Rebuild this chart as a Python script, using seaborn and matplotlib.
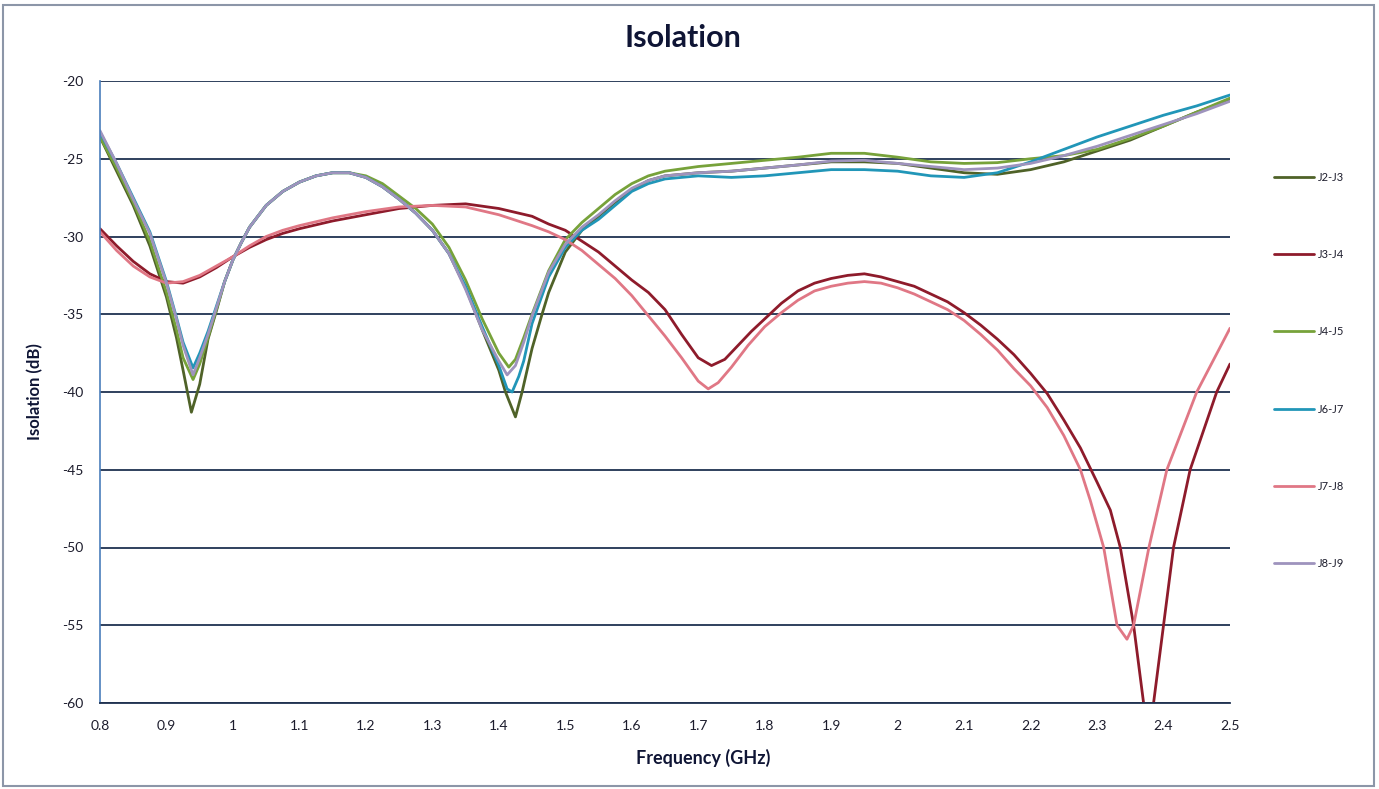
import matplotlib
matplotlib.use("Agg")
import matplotlib.pyplot as plt
import seaborn as sns
import pandas as pd
from matplotlib.patches import Rectangle

# ---------------- data ----------------
series_names = ["J2-J3", "J3-J4", "J4-J5", "J6-J7", "J7-J8", "J8-J9"]

freq_j2j3 = [0.8, 0.825, 0.85, 0.875, 0.9, 0.915, 0.925, 0.9375, 0.95, 0.9625, 0.975,
             0.9875, 1.0, 1.0125, 1.025, 1.05, 1.075, 1.1, 1.125, 1.15, 1.175, 1.2, 1.225,
             1.25, 1.275, 1.3, 1.325, 1.35, 1.375, 1.4, 1.41, 1.425, 1.435, 1.45, 1.465,
             1.475, 1.5, 1.525, 1.55, 1.575, 1.6, 1.625, 1.65, 1.7, 1.75, 1.8, 1.85, 1.9,
             1.95, 2.0, 2.05, 2.1, 2.15, 2.2, 2.25, 2.3, 2.35, 2.4, 2.45, 2.5]
iso_j2j3 = [-23.6, -25.8, -28.0, -30.6, -33.9, -36.5, -38.6, -41.3, -39.5, -36.6, -34.8,
            -32.9, -31.5, -30.4, -29.4, -28.0, -27.1, -26.5, -26.1, -25.9, -25.9, -26.2, -26.8,
            -27.6, -28.5, -29.6, -31.1, -33.3, -36.0, -38.6, -40.0, -41.6, -40.0, -37.2, -35.0,
            -33.6, -31.0, -29.6, -28.7, -27.8, -27.0, -26.4, -26.1, -25.9, -25.8, -25.6, -25.4, -25.2,
            -25.2, -25.3, -25.6, -25.9, -26.0, -25.7, -25.2, -24.5, -23.8, -22.9, -22.0, -21.2]

freq_j3j4 = [0.8, 0.825, 0.85, 0.875, 0.9, 0.925, 0.95, 0.975, 1.0, 1.025, 1.05, 1.075,
             1.1, 1.15, 1.2, 1.25, 1.3, 1.35, 1.4, 1.45, 1.475, 1.5, 1.525, 1.55, 1.575,
             1.6, 1.625, 1.65, 1.675, 1.7, 1.72, 1.74, 1.76, 1.78, 1.8, 1.825, 1.85, 1.875,
             1.9, 1.925, 1.95, 1.975, 2.0, 2.025, 2.05, 2.075, 2.1, 2.125, 2.15, 2.175, 2.2,
             2.225, 2.25, 2.275, 2.3, 2.32, 2.335, 2.355, 2.37, 2.378, 2.385, 2.4, 2.415,
             2.44, 2.48, 2.5]
iso_j3j4 = [-29.5, -30.6, -31.6, -32.4, -32.9, -33.0, -32.6, -32.0, -31.3, -30.7, -30.2, -29.8,
            -29.5, -29.0, -28.6, -28.2, -28.0, -27.9, -28.2, -28.7, -29.2, -29.6, -30.3, -31.0, -31.9,
            -32.8, -33.6, -34.7, -36.3, -37.8, -38.3, -37.9, -37.0, -36.1, -35.3, -34.3, -33.5, -33.0,
            -32.7, -32.5, -32.4, -32.6, -32.9, -33.2, -33.7, -34.2, -34.9, -35.7, -36.6, -37.6, -38.8,
            -40.1, -41.8, -43.6, -45.8, -47.6, -50.0, -55.0, -60.0, -62.0, -60.0, -55.0, -50.0,
            -45.0, -40.0, -38.2]

freq_j4j5 = [0.8, 0.825, 0.85, 0.875, 0.9, 0.915, 0.925, 0.94, 0.95, 0.9625, 0.975,
             0.9875, 1.0, 1.0125, 1.025, 1.05, 1.075, 1.1, 1.125, 1.15, 1.175, 1.2, 1.225,
             1.25, 1.275, 1.3, 1.325, 1.35, 1.375, 1.4, 1.415, 1.425, 1.4375, 1.45, 1.475,
             1.5, 1.525, 1.55, 1.575, 1.6, 1.625, 1.65, 1.7, 1.75, 1.8, 1.85, 1.9, 1.95,
             2.0, 2.05, 2.1, 2.15, 2.2, 2.25, 2.3, 2.35, 2.4, 2.45, 2.5]
iso_j4j5 = [-23.6, -25.6, -27.8, -30.3, -33.6, -36.0, -37.8, -39.2, -38.2, -36.5, -34.7,
            -32.9, -31.5, -30.4, -29.4, -28.0, -27.1, -26.5, -26.1, -25.9, -25.9, -26.1, -26.6,
            -27.4, -28.2, -29.2, -30.7, -32.8, -35.3, -37.5, -38.4, -37.9, -36.5, -35.0, -32.2,
            -30.2, -29.1, -28.2, -27.3, -26.6, -26.1, -25.8, -25.5, -25.3, -25.1, -24.9, -24.65, -24.65,
            -24.9, -25.2, -25.3, -25.25, -25.0, -24.8, -24.4, -23.7, -22.9, -22.0, -21.1]

freq_j6j7 = [0.8, 0.825, 0.85, 0.875, 0.9, 0.915, 0.925, 0.94, 0.95, 0.9625, 0.975,
             0.9875, 1.0, 1.0125, 1.025, 1.05, 1.075, 1.1, 1.125, 1.15, 1.175, 1.2, 1.225,
             1.25, 1.275, 1.3, 1.325, 1.35, 1.375, 1.4, 1.4125, 1.42, 1.43, 1.4375, 1.45,
             1.475, 1.5, 1.525, 1.55, 1.575, 1.6, 1.625, 1.65, 1.7, 1.75, 1.8, 1.85, 1.9,
             1.95, 2.0, 2.05, 2.1, 2.15, 2.2, 2.25, 2.3, 2.35, 2.4, 2.45, 2.5]
iso_j6j7 = [-23.3, -25.3, -27.5, -29.7, -32.9, -35.2, -36.8, -38.45, -37.5, -36.1, -34.5,
            -32.9, -31.5, -30.4, -29.4, -28.0, -27.1, -26.5, -26.1, -25.9, -25.9, -26.2, -26.8,
            -27.6, -28.5, -29.6, -31.1, -33.2, -35.8, -38.3, -39.8, -40.0, -39.0, -38.0, -35.6,
            -32.6, -30.7, -29.6, -28.9, -28.0, -27.1, -26.6, -26.3, -26.1, -26.2, -26.1, -25.9, -25.7,
            -25.7, -25.8, -26.1, -26.2, -25.9, -25.2, -24.4, -23.6, -22.9, -22.2, -21.6, -20.9]

freq_j7j8 = [0.8, 0.825, 0.85, 0.875, 0.9, 0.925, 0.95, 0.975, 1.0, 1.025, 1.05, 1.075,
             1.1, 1.15, 1.2, 1.25, 1.3, 1.35, 1.4, 1.45, 1.475, 1.5, 1.525, 1.55, 1.575,
             1.6, 1.625, 1.65, 1.675, 1.7, 1.715, 1.73, 1.75, 1.775, 1.8, 1.825, 1.85,
             1.875, 1.9, 1.925, 1.95, 1.975, 2.0, 2.025, 2.05, 2.075, 2.1, 2.125, 2.15,
             2.175, 2.2, 2.225, 2.25, 2.275, 2.29, 2.31, 2.33, 2.345, 2.355, 2.378, 2.405,
             2.45, 2.5]
iso_j7j8 = [-29.7, -30.9, -31.9, -32.6, -33.0, -32.9, -32.5, -31.9, -31.3, -30.6, -30.0, -29.6,
            -29.3, -28.8, -28.4, -28.1, -28.0, -28.1, -28.6, -29.3, -29.7, -30.2, -30.9, -31.8, -32.7,
            -33.8, -35.1, -36.4, -37.8, -39.3, -39.8, -39.4, -38.4, -37.0, -35.8, -34.9, -34.1,
            -33.5, -33.2, -33.0, -32.9, -33.0, -33.3, -33.7, -34.2, -34.7, -35.4, -36.3, -37.3,
            -38.5, -39.6, -41.0, -42.8, -45.0, -47.0, -50.0, -55.0, -55.9, -55.0, -50.0, -45.0,
            -40.0, -35.9]

freq_j8j9 = [0.8, 0.825, 0.85, 0.875, 0.9, 0.915, 0.925, 0.94, 0.95, 0.9625, 0.975,
             0.9875, 1.0, 1.0125, 1.025, 1.05, 1.075, 1.1, 1.125, 1.15, 1.175, 1.2, 1.225,
             1.25, 1.275, 1.3, 1.325, 1.35, 1.375, 1.4, 1.4125, 1.425, 1.4375, 1.45, 1.475,
             1.5, 1.525, 1.55, 1.575, 1.6, 1.625, 1.65, 1.7, 1.75, 1.8, 1.85, 1.9, 1.95,
             2.0, 2.05, 2.1, 2.15, 2.2, 2.25, 2.3, 2.35, 2.4, 2.45, 2.5]
iso_j8j9 = [-23.2, -25.3, -27.6, -29.8, -33.0, -35.3, -37.0, -38.9, -37.8, -36.3, -34.6,
            -32.9, -31.5, -30.4, -29.4, -28.0, -27.1, -26.5, -26.1, -25.9, -25.9, -26.2, -26.8,
            -27.6, -28.5, -29.6, -31.1, -33.4, -36.0, -38.0, -38.9, -38.3, -36.8, -35.1, -32.3,
            -30.5, -29.4, -28.6, -27.7, -26.9, -26.4, -26.1, -25.9, -25.8, -25.6, -25.4, -25.15, -25.1,
            -25.3, -25.5, -25.7, -25.6, -25.3, -24.8, -24.2, -23.5, -22.8, -22.1, -21.3]

series_colors = ["#4f6228", "#8e1b2b", "#77a23a", "#2196b8", "#e07785", "#9e93bd"]

x_ticks = [0.8, 0.9, 1.0, 1.1, 1.2, 1.3, 1.4, 1.5, 1.6, 1.7, 1.8, 1.9, 2.0, 2.1, 2.2, 2.3, 2.4, 2.5]
x_tick_labels = ["0.8", "0.9", "1", "1.1", "1.2", "1.3", "1.4", "1.5", "1.6", "1.7", "1.8",
                 "1.9", "2", "2.1", "2.2", "2.3", "2.4", "2.5"]
y_ticks = [-20, -25, -30, -35, -40, -45, -50, -55, -60]

# ---------------- long-form table ----------------
all_freq = [freq_j2j3, freq_j3j4, freq_j4j5, freq_j6j7, freq_j7j8, freq_j8j9]
all_iso = [iso_j2j3, iso_j3j4, iso_j4j5, iso_j6j7, iso_j7j8, iso_j8j9]
frames = []
for name, f, v in zip(series_names, all_freq, all_iso):
    frames.append(pd.DataFrame({"Frequency": f, "Isolation": v, "Pair": name}))
df = pd.concat(frames, ignore_index=True)

# ---------------- plot ----------------
sns.set_style("white")
plt.rcParams["font.family"] = ["Lato", "DejaVu Sans"]

W, H = 1379, 789
fig = plt.figure(figsize=(W / 100, H / 100), dpi=100)
ax = fig.add_axes([100 / W, 1 - 703 / H, 1130 / W, 622 / H])

sns.lineplot(data=df, x="Frequency", y="Isolation", hue="Pair",
             hue_order=series_names, palette=series_colors,
             estimator=None, linewidth=2.0, ax=ax, legend=True)

ax.set_xlim(0.8, 2.5)
ax.set_ylim(-60, -20)
ax.set_xticks(x_ticks)
ax.set_xticklabels(x_tick_labels)
ax.set_yticks(y_ticks)
ax.set_yticklabels([str(t) for t in y_ticks])
ax.tick_params(axis="both", length=0, labelsize=10, colors="#1c1c2c")
ax.tick_params(axis="y", pad=12)
ax.tick_params(axis="x", pad=12)
ax.set_xlabel("")
ax.set_ylabel("")

ax.yaxis.grid(True, color="#1f3150", linewidth=1.3)
ax.xaxis.grid(False)
ax.set_axisbelow(True)
for s in ["top", "right"]:
    ax.spines[s].set_visible(False)
ax.spines["left"].set_color("#4a7ebb")
ax.spines["left"].set_linewidth(1.2)
ax.spines["bottom"].set_color("#1f3150")
ax.spines["bottom"].set_linewidth(1.3)

handles, labels = ax.get_legend_handles_labels()
ax.legend(handles, labels, loc="upper left", bbox_to_anchor=(1268 / W, 1 - 166 / H),
          bbox_transform=fig.transFigure, frameon=False, fontsize=8,
          handlelength=3.6, handletextpad=0.4, labelspacing=5.97, borderpad=0,
          labelcolor="#1c1c2c")

fig.text(683 / W, 1 - 38 / H, "Isolation", ha="center", va="center",
         fontsize=22, fontweight="bold", color="#0f1535")
fig.text(703 / W, 1 - 758 / H, "Frequency (GHz)", ha="center", va="center",
         fontsize=13, fontweight="bold", color="#0f1535")
fig.text(35 / W, 1 - 392 / H, "Isolation (dB)", ha="center", va="center",
         rotation=90, fontsize=12, fontweight="bold", color="#0f1535")

# outer chart frame
fig.patches.append(Rectangle((3 / W, 3 / H), 1 - 8 / W, 1 - 8 / H, transform=fig.transFigure,
                             fill=False, edgecolor="#8c96a8", linewidth=1.5))

fig.savefig("out.png", dpi=100, facecolor="white")
